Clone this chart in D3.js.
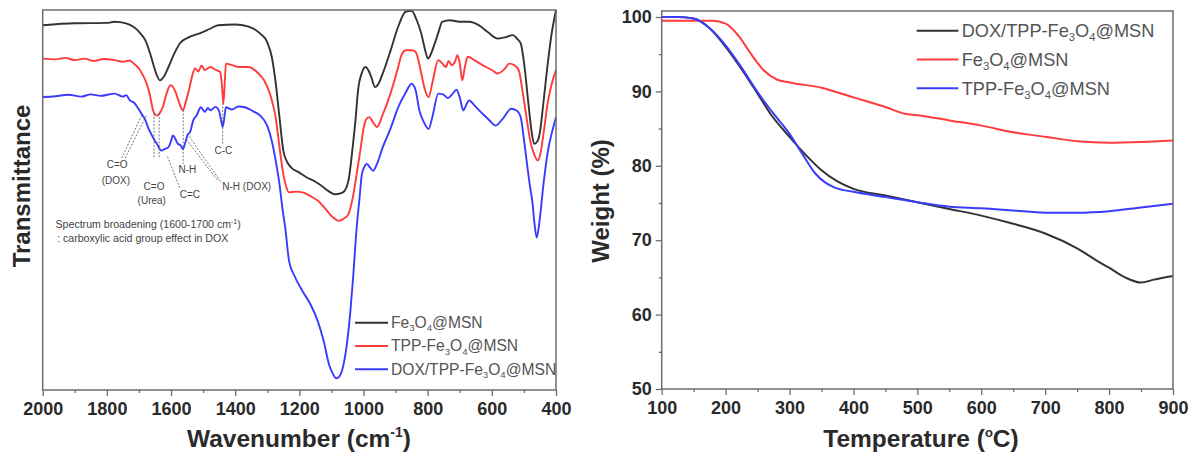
<!DOCTYPE html>
<html><head><meta charset="utf-8">
<script src="https://cdn.jsdelivr.net/npm/d3@7"></script>
<style>
body{margin:0;background:#fff}
svg{display:block}
text{font-family:"Liberation Sans",Arial,sans-serif}
</style></head>
<body><svg id="c" width="1195" height="454"></svg>
<script>
// ---------- FTIR data (wavenumber cm-1, transmittance a.u.) ----------
const irFe3O4MSN = [[2000,96],[1900,96.5],[1800,96.6],[1776,96.9],[1740,96.5],[1716,95.5],[1695,93.8],[1680,92],[1665,88.5],[1656,85.9],[1645,83],[1635,81.5],[1622,82.5],[1608,85],[1590,88.5],[1573,91.2],[1545,92.8],[1513,93.8],[1480,95],[1453,96],[1400,96.2],[1358,95.6],[1322,93.8],[1300,91.5],[1286,87.7],[1274,81],[1262,71.8],[1250,63],[1238,60],[1226,58.6],[1200,57.2],[1178,56],[1150,54.8],[1130,53.7],[1110,52.4],[1089,51.5],[1070,51.8],[1059,52.4],[1045,56],[1035,63],[1025,71],[1017,78.9],[1005,83.5],[994,85],[984,84],[976,82.4],[964,79.7],[952,80.8],[940,83.3],[915,89.5],[892,95.6],[868,99.6],[850,99.8],[835,97.5],[820,93.8],[808,89.5],[799,87.2],[788,88.8],[778,91.2],[765,94.5],[755,96.9],[730,97.3],[701,96.9],[670,96.9],[641,96],[610,94],[582,92.5],[560,92.8],[534,93.4],[522,92.5],[510,91.2],[498,85],[487,76.2],[476,68],[468,64.8],[460,65.2],[451,67.4],[440,75],[427,85],[415,93],[400,100]];
const irTPPFe3O4MSN = [[2000,87.2],[1960,87],[1930,87.4],[1900,86.8],[1870,87.2],[1840,86.6],[1810,87.1],[1776,86.8],[1750,86.4],[1730,86.7],[1716,85.9],[1700,84.6],[1690,83.2],[1680,81.5],[1670,79],[1662,76],[1656,73.6],[1644,72.2],[1636,72.8],[1626,74.4],[1614,78],[1602,80.2],[1594,79.8],[1584,78],[1572,75],[1563,73.6],[1555,75.5],[1542,79.7],[1533,83],[1525,84.6],[1515,83.8],[1505,85.4],[1495,84.2],[1477,85],[1462,84.3],[1447,83.7],[1441,80],[1437,75.3],[1433,80],[1429,85.9],[1410,85.5],[1390,85],[1358,85],[1330,83.5],[1310,81.5],[1290,77.5],[1274,71.8],[1262,64],[1250,56.8],[1241,53.5],[1232,52],[1210,52.2],[1190,52],[1165,51],[1142,49.8],[1120,47.8],[1095,45.4],[1077,44.5],[1060,45.2],[1047,46.3],[1035,50],[1023,55.9],[1010,63],[999,69.2],[990,71.4],[982,71.8],[970,70.4],[958,69.2],[940,72.5],[916,78],[895,84],[880,88.5],[868,89.4],[850,89.4],[838,89],[828,86.5],[820,83.3],[810,79.5],[797,77.1],[785,81],[767,86.8],[755,86],[743,85],[735,86.6],[725,85.5],[715,86.4],[707,88.1],[700,86],[692,81.5],[684,85],[675,87.7],[655,86.8],[629,85.5],[600,84.2],[582,83.3],[560,84.5],[546,85.9],[530,85.5],[516,84.1],[505,79],[492,71.8],[480,65.5],[472,63],[456,60.4],[448,62.5],[439,67.4],[425,76],[412,81],[400,84.1]];
const irDOXTPPFe3O4MSN = [[2000,77.1],[1960,77.3],[1920,77.7],[1880,77.2],[1850,77.8],[1820,77.4],[1776,78],[1750,77.2],[1740,77.6],[1728,76.2],[1715,75.6],[1703,74.2],[1692,72.7],[1680,71],[1670,68.8],[1662,67.4],[1652,65.8],[1644,64.8],[1630,63],[1620,63.4],[1608,63.9],[1600,65.5],[1594,67],[1586,66],[1579,64.8],[1570,64.4],[1563,63.4],[1556,65],[1549,67],[1540,68],[1531,70.9],[1520,72.3],[1507,74.4],[1495,73.2],[1485,74.2],[1477,73.6],[1462,74.5],[1451,73.6],[1444,71],[1439,69.2],[1434,71.5],[1429,74.4],[1410,73.8],[1390,74.6],[1370,74.4],[1345,73.4],[1322,72.2],[1300,69.5],[1286,65.6],[1274,60.5],[1262,54.2],[1253,48],[1244,42.7],[1232,33.9],[1215,30],[1190,26],[1165,22.5],[1142,18],[1124,12.8],[1107,6.6],[1095,4.2],[1085,3.1],[1075,3.6],[1065,5.7],[1052,12],[1041,20.7],[1032,30],[1023,41],[1013,50],[1005,56.8],[998,58.6],[990,59.5],[980,58.6],[970,57.7],[958,59.5],[940,63.9],[915,69],[892,74.4],[870,78],[850,80.6],[838,79],[826,73.6],[812,70.5],[797,68.7],[785,72],[767,78],[752,77.8],[737,76.8],[722,78],[710,79],[700,77],[689,73.6],[680,75],[671,76.2],[650,74.5],[629,72.7],[610,71.2],[588,69.6],[565,71.5],[540,74],[522,73.5],[510,71.8],[500,66],[489,58.6],[480,53],[474,49.8],[466,43],[460,40.1],[452,44],[439,54.2],[425,63],[412,68],[400,71.8]];

const irNames = [
  [["Fe",0],["3",1],["O",0],["4",1],["@MSN",0]],
  [["TPP-Fe",0],["3",1],["O",0],["4",1],["@MSN",0]],
  [["DOX/TPP-Fe",0],["3",1],["O",0],["4",1],["@MSN",0]]
];
const irTicks = [2000,1800,1600,1400,1200,1000,800,600,400];
const irMinorTicks = [1900,1700,1500,1300,1100,900,700,500];

// annotation dashed leaders [[wn1,T1],[wn2,T2]] and labels [wn,T,text]
const irLeaders = [
  [[1754,61],[1691,72.4]],[[1743,61],[1676,72.4]],
  [[1653,72.8],[1653,61]],[[1637,72.8],[1637,61]],
  [[1611,61.4],[1572,53]],
  [[1562,73.7],[1562,59.5]],
  [[1553,66],[1456,55.3]],[[1543,66.7],[1442,54.4]],
  [[1439,75.5],[1439,64.8]]
];
const irLabels = [
  [1768,59,"C=O"],[1772,55,"(DOX)"],
  [1653,53.3,"C=O"],[1660,49.6,"(Urea)"],
  [1541,51.3,"C=C"],[1549,57.7,"N-H"],
  [1364,53.3,"N-H (DOX)"],[1437,62.7,"C-C"]
];

// ---------- TGA data (temperature °C, weight %) ----------
const tgaDOXTPPFe3O4MSN = [[100,100],[125,100],[150,99.8],[175,98.5],[200,96],[225,93],[250,89.7],[270,87],[300,83.9],[325,81.5],[350,79.4],[375,77.9],[400,76.9],[450,76],[500,75.1],[550,74.2],[600,73.3],[650,72.2],[700,70.9],[750,68.9],[780,67.3],[800,66.3],[825,65],[850,64.3],[870,64.7],[900,65.2]];
const tgaFe3O4MSN = [[100,99.5],[150,99.5],[180,99.5],[200,99.1],[220,97.5],[240,95],[260,92.8],[280,91.6],[300,91.2],[350,90.5],[400,89.2],[450,87.9],[480,87],[500,86.8],[550,86.1],[600,85.4],[650,84.5],[700,83.9],[750,83.3],[800,83.1],[850,83.2],[900,83.4]];
const tgaTPPFe3O4MSN = [[100,100],[125,100],[150,99.8],[175,98.5],[200,96.2],[225,93.2],[250,89.9],[275,87],[300,84.3],[320,81.6],[340,79],[355,77.8],[370,77.1],[400,76.5],[450,75.8],[500,75.1],[550,74.5],[600,74.3],[650,74],[700,73.7],[750,73.7],[800,73.9],[850,74.4],[900,74.9]];
const tgaNames = [
  [["DOX/TPP-Fe",0],["3",1],["O",0],["4",1],["@MSN",0]],
  [["Fe",0],["3",1],["O",0],["4",1],["@MSN",0]],
  [["TPP-Fe",0],["3",1],["O",0],["4",1],["@MSN",0]]
];
const tgaXTicks = [100,200,300,400,500,600,700,800,900];
const tgaXMinor = [150,250,350,450,550,650,750,850];
const tgaYTicks = [50,60,70,80,90,100];
const tgaYMinor = [55,65,75,85,95];

const colors = ["#333333","#ff3b3b","#3b3bff"];

const svg = d3.select("#c");
const frameColor = "#6e6e6e";

function addLabel(sel, parts, size){
  let off = 0;
  parts.forEach(([t,sub]) => {
    const ts = sel.append("tspan").text(t);
    const target = sub ? size*0.22 : 0;
    if (sub) ts.attr("font-size", size*0.62);
    ts.attr("dy", target - off);
    off = target;
  });
}

function styleAxis(g){
  g.select(".domain").remove();
  g.selectAll(".tick line").attr("stroke", frameColor).attr("stroke-width",1.3);
  g.selectAll(".tick text").attr("font-family","Liberation Sans, Arial, sans-serif")
    .attr("font-weight","bold").attr("font-size",18).attr("fill","#2a2a2a");
}

// ================= LEFT PANEL =================
{
  const x = d3.scaleLinear().domain([2000,400]).range([42.7,556]);
  const y = d3.scaleLinear().domain([0,100]).range([390,10]);
  const L = svg.append("g");
  const line = d3.line().x(d=>x(d[0])).y(d=>y(d[1])).curve(d3.curveMonotoneX);
  [irFe3O4MSN, irTPPFe3O4MSN, irDOXTPPFe3O4MSN].forEach((s,i)=>{
    L.append("path").datum(s).attr("d",line).attr("fill","none")
      .attr("stroke",colors[i]).attr("stroke-width",1.9).attr("stroke-linejoin","round");
  });
  irLeaders.forEach(([a,b])=>{
    L.append("line").attr("x1",x(a[0])).attr("y1",y(a[1])).attr("x2",x(b[0])).attr("y2",y(b[1]))
      .attr("stroke","#555").attr("stroke-width",0.8).attr("stroke-dasharray","2,1.5");
  });
  irLabels.forEach(([w,t,s])=>{
    L.append("text").attr("x",x(w)).attr("y",y(t)).attr("text-anchor","middle")
      .attr("dominant-baseline","middle").attr("font-size",10).attr("fill","#444").text(s);
  });
  const sb = L.append("text").attr("x",x(1960)).attr("y",y(43.4)).attr("dominant-baseline","middle")
    .attr("font-size",10.6).attr("fill","#444");
  sb.append("tspan").text("Spectrum broadening (1600-1700 cm");
  sb.append("tspan").text("-1").attr("font-size",7).attr("dy",-3.5);
  sb.append("tspan").text(")").attr("dy",3.5);
  L.append("text").attr("x",x(1955)).attr("y",y(39.7)).attr("dominant-baseline","middle")
    .attr("font-size",10.6).attr("fill","#444").text(": carboxylic acid group effect in DOX");

  L.append("rect").attr("x",42.7).attr("y",10).attr("width",556-42.7).attr("height",380)
    .attr("fill","none").attr("stroke",frameColor).attr("stroke-width",1.5);
  const ax = L.append("g").attr("transform","translate(0,390)")
    .call(d3.axisBottom(x).tickValues(irTicks).tickSize(6).tickPadding(6).tickFormat(d3.format("d")));
  styleAxis(ax);
  const axm = L.append("g").attr("transform","translate(0,390)")
    .call(d3.axisBottom(x).tickValues(irMinorTicks).tickSize(3).tickFormat(""));
  styleAxis(axm);

  L.append("text").attr("x",299).attr("y",447).attr("text-anchor","middle")
    .attr("font-weight","bold").attr("font-size",24.5).attr("fill","#2a2a2a")
    .call(t=>{t.append("tspan").text("Wavenumber (cm");
      t.append("tspan").text("-1").attr("font-size",14).attr("dy",-10);
      t.append("tspan").text(")").attr("dy",10);});
  L.append("text").attr("transform","translate(30,186) rotate(-90)").attr("text-anchor","middle")
    .attr("font-weight","bold").attr("font-size",24).attr("fill","#2a2a2a").text("Transmittance");

  [0,1,2].forEach(i=>{
    const ly = 322.7 + i*23.3;
    L.append("line").attr("x1",355).attr("x2",388).attr("y1",ly).attr("y2",ly)
      .attr("stroke",colors[i]).attr("stroke-width",2);
    const t = L.append("text").attr("x",391).attr("y",ly+5.3).attr("font-size",15.6).attr("fill","#555");
    addLabel(t, irNames[i], 15.6);
  });
}

// ================= RIGHT PANEL =================
{
  const x = d3.scaleLinear().domain([100,900]).range([661.7,1173]);
  const y = d3.scaleLinear().domain([50,100]).range([389,17]);
  const R = svg.append("g");
  const line = d3.line().x(d=>x(d[0])).y(d=>y(d[1])).curve(d3.curveMonotoneX);
  [tgaDOXTPPFe3O4MSN, tgaFe3O4MSN, tgaTPPFe3O4MSN].forEach((s,i)=>{
    R.append("path").datum(s).attr("d",line).attr("fill","none")
      .attr("stroke",colors[i]).attr("stroke-width",2);
  });
  R.append("rect").attr("x",661.7).attr("y",11).attr("width",1173-661.7).attr("height",389-11)
    .attr("fill","none").attr("stroke",frameColor).attr("stroke-width",1.5);
  const ax = R.append("g").attr("transform","translate(0,389)")
    .call(d3.axisBottom(x).tickValues(tgaXTicks).tickSize(6).tickPadding(6).tickFormat(d3.format("d")));
  styleAxis(ax);
  const axm = R.append("g").attr("transform","translate(0,389)")
    .call(d3.axisBottom(x).tickValues(tgaXMinor).tickSize(3).tickFormat(""));
  styleAxis(axm);
  const ay = R.append("g").attr("transform","translate(661.7,0)")
    .call(d3.axisLeft(y).tickValues(tgaYTicks).tickSize(6).tickPadding(4).tickFormat(d3.format("d")));
  styleAxis(ay);
  const aym = R.append("g").attr("transform","translate(661.7,0)")
    .call(d3.axisLeft(y).tickValues(tgaYMinor).tickSize(3).tickFormat(""));
  styleAxis(aym);

  R.append("text").attr("x",921).attr("y",447).attr("text-anchor","middle")
    .attr("font-weight","bold").attr("font-size",24.5).attr("fill","#2a2a2a")
    .call(t=>{t.append("tspan").text("Temperature (");
      t.append("tspan").text("o").attr("font-size",13).attr("dy",-10);
      t.append("tspan").text("C)").attr("dy",10);});
  R.append("text").attr("transform","translate(609,201) rotate(-90)").attr("text-anchor","middle")
    .attr("font-weight","bold").attr("font-size",24).attr("fill","#2a2a2a").text("Weight (%)");

  [0,1,2].forEach(i=>{
    const ly = 30.7 + i*28.8;
    R.append("line").attr("x1",916.7).attr("x2",958.3).attr("y1",ly).attr("y2",ly)
      .attr("stroke",colors[i]).attr("stroke-width",2);
    const t = R.append("text").attr("x",961.7).attr("y",ly+6.2).attr("font-size",18.2).attr("fill","#555");
    addLabel(t, tgaNames[i], 18.2);
  });
}
</script></body></html>
